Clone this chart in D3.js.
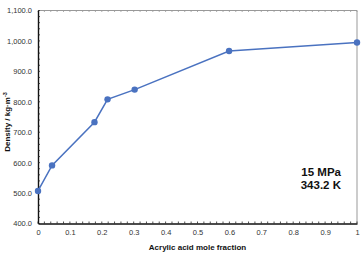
<!DOCTYPE html>
<html>
<head>
<meta charset="utf-8">
<script src="https://cdn.jsdelivr.net/npm/d3@7"></script>
<style>
  body { margin: 0; background: #fff; }
  svg { display: block; font-family: Arial, "Liberation Sans", sans-serif; }
</style>
</head>
<body>
<div id="container"></div>
<script>
// data
const moleFraction = [0, 0.044, 0.177, 0.218, 0.303, 0.599, 1];
const density = [507, 591, 733, 808, 840, 967, 995];
const xTicks = [0, 0.1, 0.2, 0.3, 0.4, 0.5, 0.6, 0.7, 0.8, 0.9, 1];
const yTicks = [400, 500, 600, 700, 800, 900, 1000, 1100];
const noteLines = ["15 MPa", "343.2 K"];

const w = 362;
const h = 256;
const plotL = 38, plotR = 357, plotT = 10.5, plotB = 223.5;
const blue = "#4a72c0";

const xScale = d3.scaleLinear().domain([0, 1]).range([plotL, plotR]);
const yScale = d3.scaleLinear().domain([400, 1100]).range([plotB, plotT]);

const svg = d3.select("#container")
  .append("svg")
  .attr("width", w)
  .attr("height", h);

// grey frame on top and right
svg.append("path")
  .attr("d", `M${plotL},${plotT}H${plotR}V${plotB}`)
  .attr("fill", "none")
  .attr("stroke", "#999")
  .attr("stroke-width", 1);

// minor ticks on the top frame
const topMinor = d3.range(0, 1.0001, 0.02);
svg.append("g")
  .selectAll("line")
  .data(topMinor)
  .enter()
  .append("line")
  .attr("x1", d => xScale(d))
  .attr("x2", d => xScale(d))
  .attr("y1", plotT)
  .attr("y2", plotT + 1.5)
  .attr("stroke", "#999")
  .attr("stroke-width", 0.8);

const fmt = d3.format(",.1f");

const xAxis = d3.axisBottom(xScale)
  .tickValues(xTicks)
  .tickFormat(d => d === 0 || d === 1 ? String(d) : d3.format(".1f")(d))
  .tickSize(0)
  .tickPadding(6);

const gx = svg.append("g")
  .attr("transform", `translate(0,${plotB})`)
  .call(xAxis);
gx.select(".domain").attr("stroke", "#111").attr("stroke-width", 1.4);
gx.selectAll("text").attr("fill", "#333").style("font-size", "7.5px");

// minor ticks pointing inward
const xMinor = d3.range(0, 1.0001, 0.02);
svg.append("g")
  .selectAll("line")
  .data(xMinor)
  .enter()
  .append("line")
  .attr("x1", d => xScale(d))
  .attr("x2", d => xScale(d))
  .attr("y1", plotB)
  .attr("y2", plotB - 2)
  .attr("stroke", "#222")
  .attr("stroke-width", 0.8);

const yAxis = d3.axisLeft(yScale)
  .tickValues(yTicks)
  .tickFormat(fmt)
  .tickSize(0)
  .tickPadding(6);

const gy = svg.append("g")
  .attr("transform", `translate(${plotL},0)`)
  .call(yAxis);
gy.select(".domain").attr("stroke", "#111").attr("stroke-width", 1.4);
gy.selectAll("text").attr("fill", "#333").style("font-size", "7.5px");

const yMinor = d3.range(400, 1100.1, 20);
svg.append("g")
  .selectAll("line")
  .data(yMinor)
  .enter()
  .append("line")
  .attr("x1", plotL)
  .attr("x2", plotL + 2)
  .attr("y1", d => yScale(d))
  .attr("y2", d => yScale(d))
  .attr("stroke", "#222")
  .attr("stroke-width", 0.8);

// axis titles
svg.append("text")
  .attr("x", (plotL + plotR) / 2)
  .attr("y", 250)
  .attr("text-anchor", "middle")
  .style("font-size", "8px")
  .style("font-weight", "bold")
  .attr("fill", "#111")
  .text("Acrylic acid mole fraction");

const yTitle = svg.append("text")
  .attr("transform", `translate(10,${(plotT + plotB) / 2 + 5}) rotate(-90)`)
  .attr("text-anchor", "middle")
  .style("font-size", "8px")
  .style("font-weight", "bold")
  .attr("fill", "#111");
yTitle.append("tspan").text("Density / kg·m");
yTitle.append("tspan").attr("dy", -3).style("font-size", "5.5px").text("-3");

// series
const line = d3.line()
  .x((d, i) => xScale(moleFraction[i]))
  .y(d => yScale(d));

svg.append("path")
  .datum(density)
  .attr("d", line)
  .attr("fill", "none")
  .attr("stroke", blue)
  .attr("stroke-width", 1.5);

svg.selectAll("circle")
  .data(density)
  .enter()
  .append("circle")
  .attr("cx", (d, i) => xScale(moleFraction[i]))
  .attr("cy", d => yScale(d))
  .attr("r", 3.2)
  .attr("fill", blue);

// conditions note
svg.append("g")
  .selectAll("text")
  .data(noteLines)
  .enter()
  .append("text")
  .attr("x", 341)
  .attr("y", (d, i) => 176 + i * 13)
  .attr("text-anchor", "end")
  .style("font-size", "11.5px")
  .style("font-weight", "bold")
  .attr("fill", "#111")
  .text(d => d);
</script>
</body>
</html>
